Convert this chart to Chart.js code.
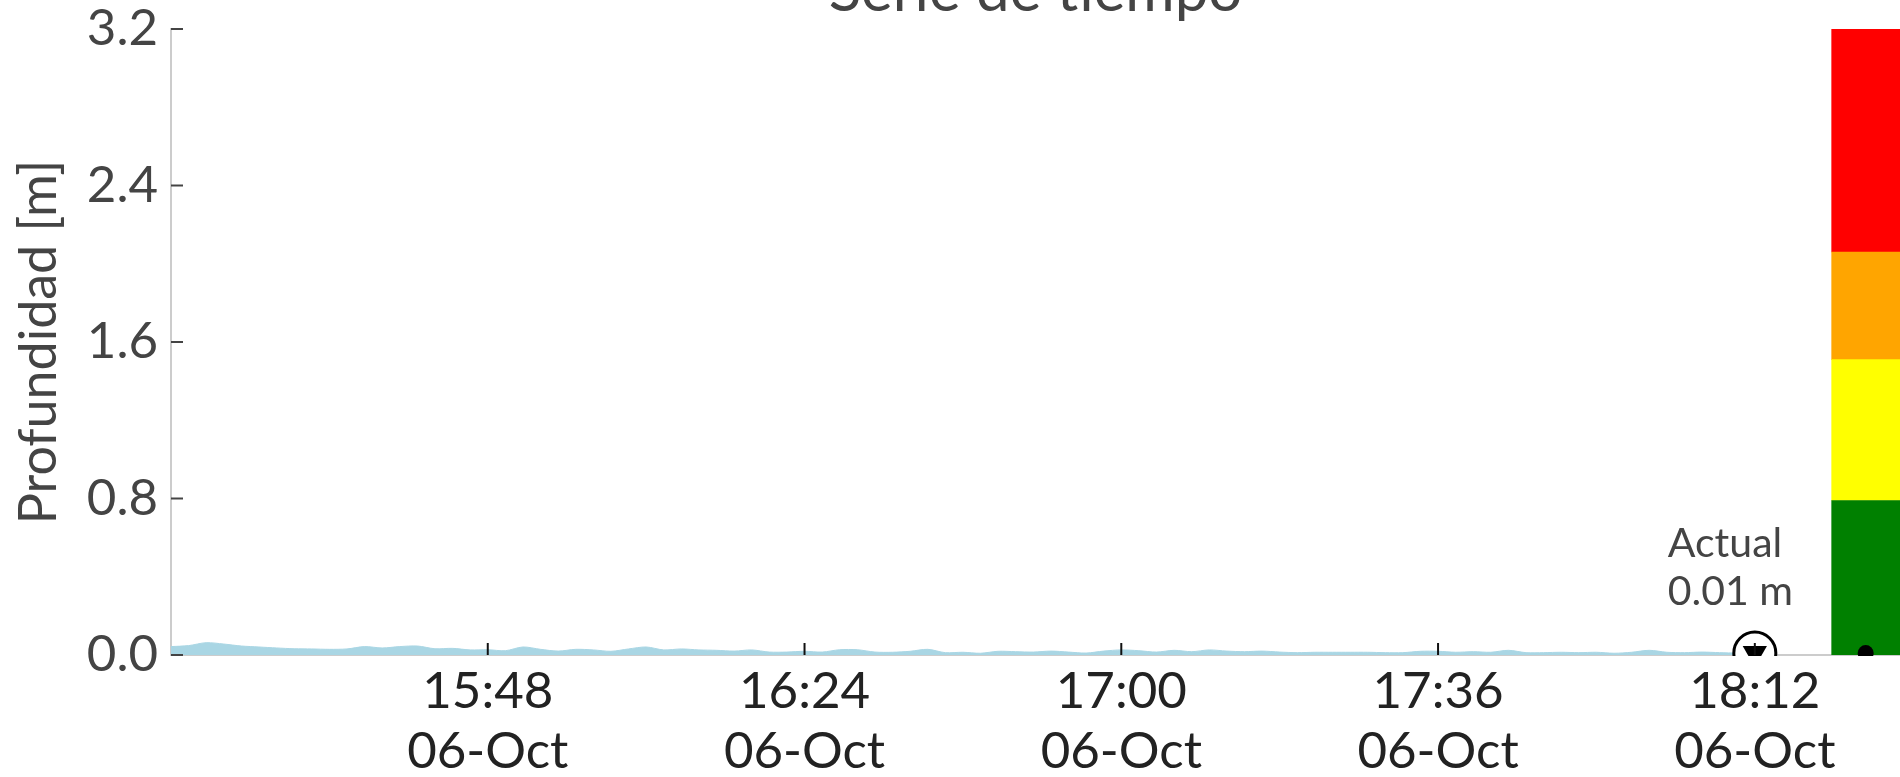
<!DOCTYPE html>
<html>
<head>
<meta charset="utf-8">
<title>Serie de tiempo</title>
<script src="https://cdn.jsdelivr.net/npm/chart.js@4.4.1/dist/chart.umd.min.js"></script>
<style>
    html, body { margin: 0; padding: 0; background: #ffffff; }
    #depthChart { display: block; }
</style>
</head>
<body>
<canvas id="depthChart" width="1900" height="777"></canvas>
<script>
// Readings every 2 minutes on 06-Oct
const TIMES = [
    '15:12', '15:14', '15:16', '15:18', '15:20', '15:22', '15:24', '15:26', '15:28', '15:30',
    '15:32', '15:34', '15:36', '15:38', '15:40', '15:42', '15:44', '15:46', '15:48',
    '15:50', '15:52', '15:54', '15:56', '15:58', '16:00', '16:02', '16:04', '16:06', '16:08',
    '16:10', '16:12', '16:14', '16:16', '16:18', '16:20', '16:22', '16:24',
    '16:26', '16:28', '16:30', '16:32', '16:34', '16:36', '16:38', '16:40', '16:42', '16:44',
    '16:46', '16:48', '16:50', '16:52', '16:54', '16:56', '16:58', '17:00', '17:02',
    '17:04', '17:06', '17:08', '17:10', '17:12', '17:14', '17:16', '17:18', '17:20', '17:22',
    '17:24', '17:26', '17:28', '17:30', '17:32', '17:34', '17:36', '17:38',
    '17:40', '17:42', '17:44', '17:46', '17:48', '17:50', '17:52', '17:54', '17:56', '17:58',
    '18:00', '18:02', '18:04', '18:06', '18:08', '18:10', '18:12'
];

// Profundidad [m]
const DEPTHS = [
    0.043, 0.048, 0.063, 0.056, 0.046, 0.041, 0.036, 0.032, 0.031, 0.029,
    0.031, 0.043, 0.036, 0.043, 0.046, 0.032, 0.034, 0.026, 0.027,
    0.022, 0.041, 0.029, 0.020, 0.029, 0.026, 0.019, 0.031, 0.041, 0.026,
    0.031, 0.026, 0.024, 0.020, 0.026, 0.015, 0.015, 0.019,
    0.015, 0.027, 0.027, 0.015, 0.014, 0.019, 0.029, 0.012, 0.014, 0.009,
    0.019, 0.017, 0.015, 0.020, 0.015, 0.010, 0.020, 0.026, 0.022,
    0.015, 0.024, 0.017, 0.026, 0.020, 0.017, 0.020, 0.015, 0.012, 0.014,
    0.014, 0.014, 0.014, 0.012, 0.012, 0.019, 0.019, 0.014,
    0.017, 0.014, 0.024, 0.012, 0.012, 0.014, 0.012, 0.014, 0.009, 0.014,
    0.024, 0.014, 0.012, 0.015, 0.012, 0.010, 0.010
];

const X_TICKS = ['15:48', '16:24', '17:00', '17:36', '18:12'];
const X_TICK_LABELS = [
    ['15:48', '06-Oct'],
    ['16:24', '06-Oct'],
    ['17:00', '06-Oct'],
    ['17:36', '06-Oct'],
    ['18:12', '06-Oct']
];
const Y_TICKS = [0, 0.8, 1.6, 2.4, 3.2];

// Alert levels shown in the bar on the right
const LEVEL_LIMITS = [0, 0.79, 1.51, 2.06, 3.2];
const LEVEL_COLORS = ['#008000', '#ffff00', '#ffa500', '#ff0000'];

const FONT = 'Lato, "Noto Sans", sans-serif';
const X_START = '15:12';
const X_END = '18:28:30';
const LEVEL_BAR_AT = '18:24:36';

function toMinutes(hhmm) {
    const parts = hhmm.split(':').map(Number);
    return parts[0] * 60 + parts[1] + (parts[2] || 0) / 60;
}

class DepthChart {
    constructor(canvasId) {
        this.canvas = document.getElementById(canvasId);
        this.points = TIMES.map((t, i) => ({ x: toMinutes(t), y: DEPTHS[i] }));
        this.current = this.points[this.points.length - 1];
        this.barX = toMinutes(LEVEL_BAR_AT);
        this.render();
    }

    levelDatasets() {
        const sets = [];
        for (let i = 0; i < LEVEL_COLORS.length; i++) {
            sets.push({
                type: 'bar',
                data: [{ x: this.barX, y: [LEVEL_LIMITS[i], LEVEL_LIMITS[i + 1]] }],
                backgroundColor: LEVEL_COLORS[i],
                borderWidth: 0,
                barThickness: 68,
                grouped: false,
                order: 5
            });
        }
        return sets;
    }

    datasets() {
        // markers are cut at the bottom of the plot, like in the original
        const markerClip = { left: false, top: false, right: false, bottom: 1 };
        return [
            {
                type: 'line',
                data: this.points,
                borderColor: '#a9d6e4',
                backgroundColor: '#a9d6e4',
                borderWidth: 1,
                fill: 'origin',
                tension: 0.3,
                pointRadius: 0,
                order: 6
            },
            ...this.levelDatasets(),
            {
                // current level on the alert bar
                type: 'line',
                showLine: false,
                data: [{ x: this.barX, y: this.current.y }],
                pointRadius: 8,
                pointBackgroundColor: '#000000',
                pointBorderWidth: 0,
                clip: markerClip,
                order: 1
            },
            {
                type: 'line',
                showLine: false,
                data: [this.current],
                pointStyle: 'circle',
                pointRadius: 21,
                pointBorderWidth: 3,
                pointBorderColor: '#000000',
                pointBackgroundColor: '#ffffff',
                clip: markerClip,
                order: 2
            },
            {
                type: 'line',
                showLine: false,
                data: [this.current],
                pointStyle: 'triangle',
                pointRotation: 180,
                pointRadius: 14,
                pointBorderWidth: 0,
                pointBackgroundColor: '#000000',
                clip: markerClip,
                order: 1
            }
        ];
    }

    decorations() {
        const current = this.current;
        return {
            id: 'decorations',
            afterDatasetsDraw(chart) {
                const { ctx, chartArea, scales } = chart;
                ctx.save();

                // inward tick marks
                ctx.lineWidth = 2;
                ctx.strokeStyle = '#111111';
                X_TICKS.forEach(t => {
                    const px = scales.x.getPixelForValue(toMinutes(t));
                    ctx.beginPath();
                    ctx.moveTo(px, chartArea.bottom);
                    ctx.lineTo(px, chartArea.bottom - 12);
                    ctx.stroke();
                });
                ctx.strokeStyle = '#444444';
                Y_TICKS.forEach(v => {
                    const py = scales.y.getPixelForValue(v);
                    ctx.beginPath();
                    ctx.moveTo(chartArea.left, py);
                    ctx.lineTo(chartArea.left + 12, py);
                    ctx.stroke();
                });

                // "Actual" note above the last reading
                const px = scales.x.getPixelForValue(current.x);
                const py = scales.y.getPixelForValue(current.y);
                ctx.fillStyle = '#444444';
                ctx.font = '41px ' + FONT;
                ctx.textAlign = 'left';
                ctx.textBaseline = 'alphabetic';
                ctx.fillText('Actual', px - 87, py - 96);
                ctx.fillText(current.y.toFixed(2) + ' m', px - 87, py - 48);

                // title, partly above the page edge
                ctx.font = '60px ' + FONT;
                ctx.textAlign = 'center';
                ctx.fillText('Serie de tiempo', (chartArea.left + chartArea.right) / 2, 11);
                ctx.restore();
            }
        };
    }

    render() {
        this.chart = new Chart(this.canvas, {
            type: 'line',
            data: { datasets: this.datasets() },
            options: {
                responsive: false,
                animation: false,
                devicePixelRatio: 1,
                events: [],
                layout: {
                    autoPadding: false,
                    padding: { top: 29, left: 0, right: 0, bottom: 0 }
                },
                plugins: {
                    legend: { display: false },
                    tooltip: { enabled: false },
                    title: { display: false }
                },
                scales: {
                    x: {
                        type: 'linear',
                        offset: false,
                        bounds: 'data',
                        min: toMinutes(X_START),
                        max: toMinutes(X_END),
                        afterBuildTicks: scale => {
                            scale.ticks = X_TICKS.map(t => ({ value: toMinutes(t) }));
                        },
                        afterFit: scale => { scale.height = 122; },
                        grid: { display: false, drawTicks: false, offset: false },
                        border: { display: true, color: '#cccccc', width: 2 },
                        ticks: {
                            autoSkip: false,
                            maxRotation: 0,
                            padding: 6,
                            color: '#222222',
                            font: { family: FONT, size: 51, lineHeight: 1.18 },
                            callback: (value, index) => X_TICK_LABELS[index]
                        }
                    },
                    y: {
                        type: 'linear',
                        min: 0,
                        max: 3.2,
                        afterBuildTicks: scale => {
                            scale.ticks = Y_TICKS.map(v => ({ value: v }));
                        },
                        afterFit: scale => { scale.width = 171; },
                        // label gap comes from tickLength so the top padding stays small
                        grid: { display: false, drawTicks: true, tickLength: 13 },
                        border: { display: true, color: '#cccccc', width: 2 },
                        ticks: {
                            padding: 0,
                            color: '#444444',
                            font: { family: FONT, size: 51, lineHeight: 1 },
                            callback: value => value.toFixed(1)
                        },
                        title: {
                            display: true,
                            text: 'Profundidad [m]',
                            color: '#444444',
                            font: { family: FONT, size: 52 },
                            padding: { top: 8, bottom: 0 }
                        }
                    }
                }
            },
            plugins: [this.decorations()]
        });
    }
}

document.addEventListener('DOMContentLoaded', () => {
    new DepthChart('depthChart');
});
</script>
</body>
</html>
